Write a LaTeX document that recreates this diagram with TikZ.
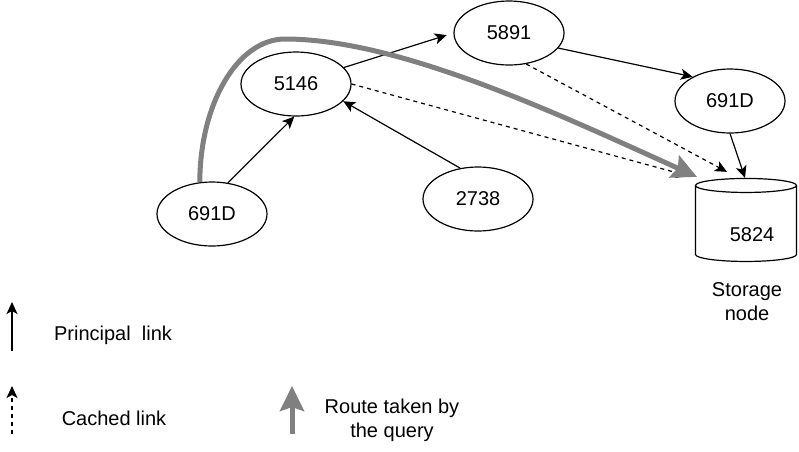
\documentclass[tikz,border=0pt]{standalone}
\usepackage{fontspec}
\setmainfont{Liberation Sans}
\usetikzlibrary{arrows.meta,shapes.geometric}

\begin{document}
\begin{tikzpicture}[x=1pt, y=-1pt, font=\fontsize{20}{24}\selectfont,
  peer/.style={draw, ellipse, line width=1.2pt, minimum width=110pt, minimum height=64pt, inner sep=0pt},
  store/.style={draw, cylinder, shape border rotate=90, aspect=2.1, line width=1.2pt, minimum width=101pt, minimum height=83pt},
  link/.style={line width=1.2pt, -{Stealth[length=12pt, width=11pt, inset=3pt]}},
  cached/.style={link, dash pattern=on 4pt off 4pt},
  route/.style={line width=5pt, draw=gray, -{Stealth[length=25pt, width=24pt, inset=4pt]}}]

\useasboundingbox (0,0) rectangle (799,451);

\node[peer] (src) at (212,214) {691D};
\node[peer] (n5146) at (296,84) {5146};
\node[peer] (n5891) at (509,33) {5891};
\node[peer] (n691D) at (730,101) {691D};
\node[peer] (n2738) at (478,199) {2738};
\node[store] (dst) at (746,225) {};
\node (dstText) at (752,235) {5824};
\node[align=center] (dstLabel) at (747,302) {Storage\\node};

\draw [link] (src.63) -- (n5146.267);
\draw [link, shorten >=7pt] (n5146.19) -- (n5891.180);
\draw [link] (n2738.120) -- (n5146.-20);
\draw [link] (n5891.-17) -- (n691D.147);
\draw [link] (n691D.south) -- ([xshift=-1pt]dst.top);

\draw [cached] (n5146.0) -- ([xshift=-58pt,yshift=2pt]dst.top);
\draw [cached] (n5891.-61) -- ([xshift=-19pt,yshift=6pt]dst.top);

\draw [route] (src.111) .. controls (200,103) and (238,39) .. (285,39)
  .. controls (400,39) and (560,115) .. ([xshift=-49pt,yshift=1pt]dst.top);

\coordinate (plFrom) at (12,351);
\coordinate (plTo) at (12,302);
\draw [link] (plFrom) -- (plTo);
\node (plText) at (113,335) {Principal\ \ link};

\coordinate (clFrom) at (12,434);
\coordinate (clTo) at (12,386);
\draw [cached] (clFrom) -- (clTo);
\node (clText) at (114,418) {Cached link};

\coordinate (rtFrom) at (292,434);
\coordinate (rtTo) at (292,386);
\draw [route] (rtFrom) -- (rtTo);
\node[align=center] (rtText) at (392,420) {Route taken by\\the query};
\end{tikzpicture}
\end{document}
